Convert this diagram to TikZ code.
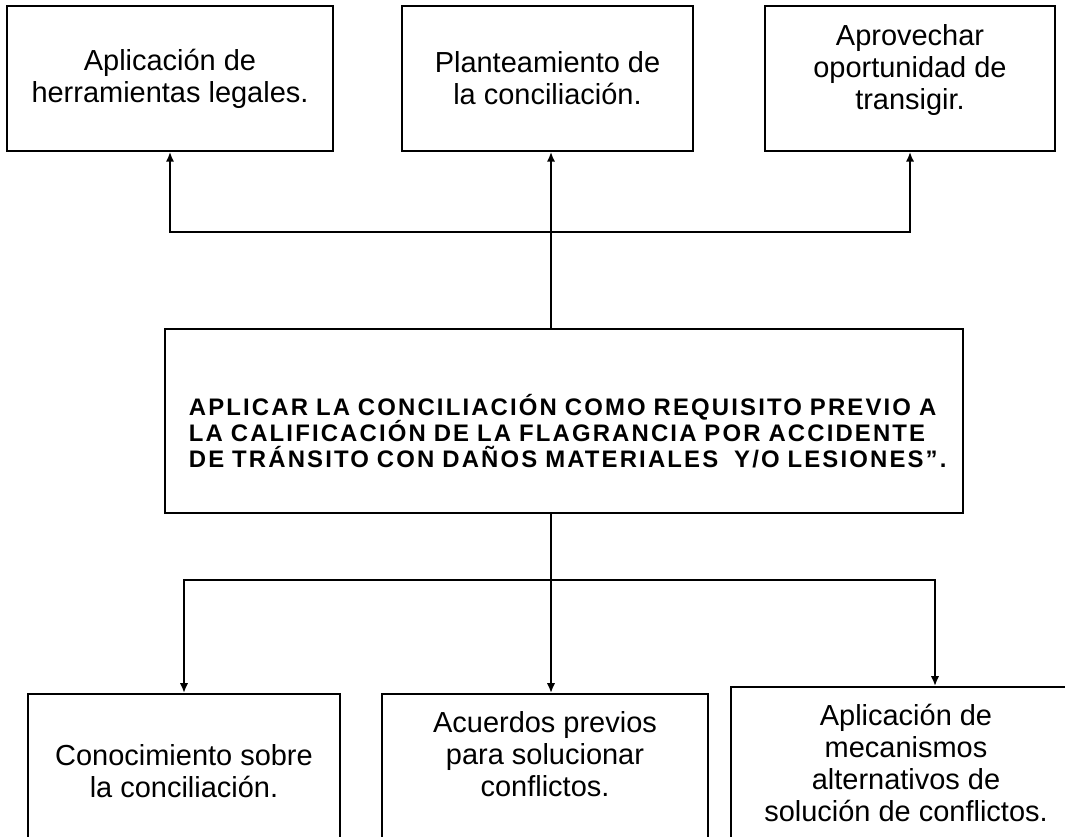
\documentclass[tikz,border=0pt]{standalone}
\usepackage{fontspec}
\setmainfont{Liberation Sans}
\newfontfamily\widebold[LetterSpace=9]{Liberation Sans}
\usetikzlibrary{arrows.meta}
\tikzset{>={Latex[length=7pt,width=6pt]}}
\tikzset{box/.style={draw,line width=1.2pt,align=center,inner sep=0pt,
    font=\fontsize{20.6}{22.8}\selectfont},
  lowbox/.style={box,anchor=north,text depth=6cm},
  conn/.style={line width=1.5pt}}

\begin{document}
\begin{tikzpicture}[x=0.025cm,y=-0.025cm]
\useasboundingbox (0,0) rectangle (1065,836);
\clip (0,0) rectangle (1065,836);
% top row
\node[box,minimum width=8.15cm,minimum height=3.625cm] (legal) at (170,78.5)
  {Aplicación de\\herramientas legales.};
\node[box,minimum width=7.275cm,minimum height=3.625cm] (plan) at (547.5,78.5)
  {Planteamiento de\\la conciliación.};
\node[box,minimum width=7.25cm,minimum height=3.625cm] (trans) at (910,78.5)
  {Aprovechar\\oportunidad de\\transigir.\\[-6pt]\mbox{}};
% main box
\node[draw,line width=1.2pt,minimum width=19.95cm,minimum height=4.6cm,
  text width=18.75cm,align=left,
  font=\widebold\bfseries\fontsize{17}{18.5}\selectfont] (goal) at (564,421)
  {\mbox{}\\[11pt]
   APLICAR LA CONCILIACIÓN COMO REQUISITO PREVIO A\\
   LA CALIFICACIÓN DE LA FLAGRANCIA POR ACCIDENTE\\
   DE TRÁNSITO CON DAÑOS MATERIALES~ Y/O LESIONES”.};
% bottom row
\node[lowbox,minimum width=7.8cm,inner ysep=1.275cm] (know) at (184,693)
  {Conocimiento sobre\\la conciliación.};
\node[lowbox,minimum width=8.15cm,inner ysep=0.45cm] (agree) at (545,693)
  {Acuerdos previos\\para solucionar\\conflictos.};
\node[lowbox,minimum width=8.75cm,inner ysep=0.425cm] (mech) at (906,686)
  {Aplicación de\\mecanismos\\alternativos de\\solución de conflictos.};

\coordinate (up) at (551,232);
\coordinate (dn) at (551,580);
\coordinate (fr) at (935,580);
\draw[conn] (goal.north -| up) -- (up);
\draw[conn,<->] (legal.south) |- (up) -| (trans.south);
\draw[conn,->] (up) -- (up |- plan.south);
\draw[conn] (goal.south -| dn) -- (dn);
\draw[conn,<->] (know.north) |- (dn) -| (fr |- mech.north);
\draw[conn,->] (dn) -- (dn |- agree.north);
\end{tikzpicture}
\end{document}
